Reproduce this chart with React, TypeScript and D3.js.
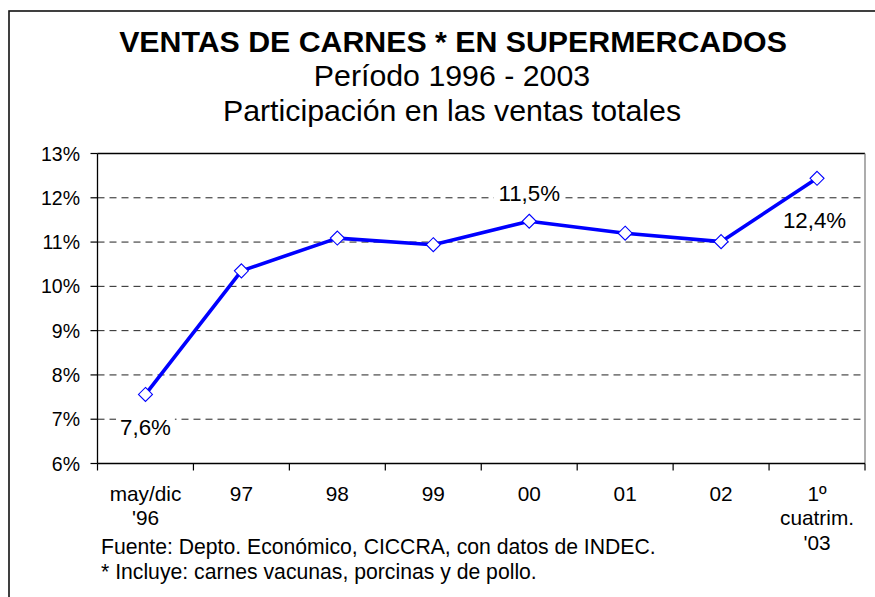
import React from "react";
import * as d3 from "d3";

const categories: string[][] = [
  ["may/dic", "'96"],
  ["97"],
  ["98"],
  ["99"],
  ["00"],
  ["01"],
  ["02"],
  ["1º", "cuatrim.", "'03"],
];
const values: number[] = [7.56, 10.35, 11.09, 10.94, 11.47, 11.2, 11.01, 12.44];
const yTicks: number[] = [6, 7, 8, 9, 10, 11, 12, 13];
const dataLabels: { index: number; text: string; pos: "above" | "below" | "belowRight" }[] = [
  { index: 0, text: "7,6%", pos: "below" },
  { index: 4, text: "11,5%", pos: "above" },
  { index: 7, text: "12,4%", pos: "belowRight" },
];
const titleLines = ["VENTAS DE CARNES * EN SUPERMERCADOS", "Período 1996 - 2003", "Participación en las ventas totales"];
const footLines = [
  "Fuente: Depto. Económico, CICCRA, con datos de INDEC.",
  "* Incluye: carnes vacunas, porcinas y de pollo.",
];

const W = 875;
const H = 597;
const FONT = "'Liberation Sans', Arial, Helvetica, sans-serif";

function labelWidth(s: string, fs: number) {
  let w = 0;
  for (const c of s) w += c === "," ? 0.278 : c === "%" ? 0.889 : 0.556;
  return w * fs;
}

export default function App() {
  const left = 97.5, right = 865, top = 153.5, bottom = 463.5;
  const x = d3.scaleBand<number>().domain(d3.range(categories.length)).range([left, right]).padding(0);
  const y = d3.scaleLinear().domain([6, 13]).range([bottom, top]);
  const cx = (i: number) => (x(i) as number) + x.bandwidth() / 2;
  const line = d3.line<number>().x((_, i) => cx(i)).y((d) => y(d));
  const boundaries = d3.range(categories.length + 1).map((i) => left + i * x.bandwidth());
  const r = 7;
  const lfs = 22.3;

  return (
    <svg width={W} height={H} style={{ position: "absolute", left: 0, top: 0, background: "#fff" }} fontFamily={FONT}>
      <rect x={0} y={0} width={W} height={H} fill="#fff" />
      <rect x={9} y={11} width={W + 20} height={H + 20} fill="none" stroke="#111" strokeWidth={1.6} />
      {/* Titles */}
      <text x={453} y={52} textAnchor="middle" fontSize={30.3} fontWeight="bold" fill="#000">{titleLines[0]}</text>
      <text x={452} y={86} textAnchor="middle" fontSize={30.3} fill="#000">{titleLines[1]}</text>
      <text x={452} y={121} textAnchor="middle" fontSize={30.3} fill="#000">{titleLines[2]}</text>

      {/* Gridlines */}
      {yTicks.filter((t) => t > 6 && t < 13).map((t) => (
        <line key={t} x1={left} x2={right} y1={y(t)} y2={y(t)} stroke="#222" strokeWidth={1} strokeDasharray="7,5" />
      ))}
      {/* Plot frame */}
      <line x1={left} x2={right} y1={top} y2={top} stroke="#000" strokeWidth={1.3} />
      <line x1={right} x2={right} y1={top} y2={bottom} stroke="#808080" strokeWidth={1.3} />
      <line x1={left} x2={left} y1={top} y2={bottom} stroke="#000" strokeWidth={1.3} />
      <line x1={left} x2={right} y1={bottom} y2={bottom} stroke="#000" strokeWidth={1.3} />

      {/* Y axis ticks & labels */}
      {yTicks.map((t) => (
        <g key={t}>
          <line x1={left - 7} x2={left} y1={y(t)} y2={y(t)} stroke="#000" strokeWidth={1.2} />
          <text x={80} y={y(t) + 7} textAnchor="end" fontSize={19.5} fill="#000">{`${t}%`}</text>
        </g>
      ))}
      {/* X axis ticks */}
      {boundaries.map((b, i) => (
        <line key={i} x1={b} x2={b} y1={bottom} y2={bottom + 7} stroke="#000" strokeWidth={1.2} />
      ))}
      {categories.map((lines, i) => (
        <text key={i} textAnchor="middle" fontSize={20.8} fill="#000">
          {lines.map((l, j) => (
            <tspan key={j} x={cx(i)} y={500.5 + j * 24.7}>{l}</tspan>
          ))}
        </text>
      ))}

      {/* Data labels (white boxes) */}
      {dataLabels.map((d) => {
        const px = cx(d.index);
        const py = y(values[d.index]);
        let tx = px, ty = py;
        if (d.pos === "below") ty = py + 41;
        else if (d.pos === "above") ty = py - 20;
        else { tx = px - 2.5; ty = py + 50; }
        const w = labelWidth(d.text, lfs);
        return (
          <g key={d.index}>
            <rect x={tx - w / 2 - 4} y={ty - 19} width={w + 8} height={24} fill="#fff" />
            <text x={tx} y={ty} textAnchor="middle" fontSize={lfs} fill="#000">{d.text}</text>
          </g>
        );
      })}

      {/* Series */}
      <path d={line(values) || ""} fill="none" stroke="#0000FF" strokeWidth={3.6} strokeLinejoin="round" />
      {values.map((v, i) => (
        <path
          key={i}
          d={`M${cx(i)},${y(v) - r}L${cx(i) + r},${y(v)}L${cx(i)},${y(v) + r}L${cx(i) - r},${y(v)}Z`}
          fill="#fff"
          stroke="#0000FF"
          strokeWidth={1.1}
        />
      ))}

      {/* Footer */}
      <text x={101} y={554} fontSize={21.2} fill="#000">{footLines[0]}</text>
      <text x={101} y={579} fontSize={21.2} fill="#000">{footLines[1]}</text>
    </svg>
  );
}
